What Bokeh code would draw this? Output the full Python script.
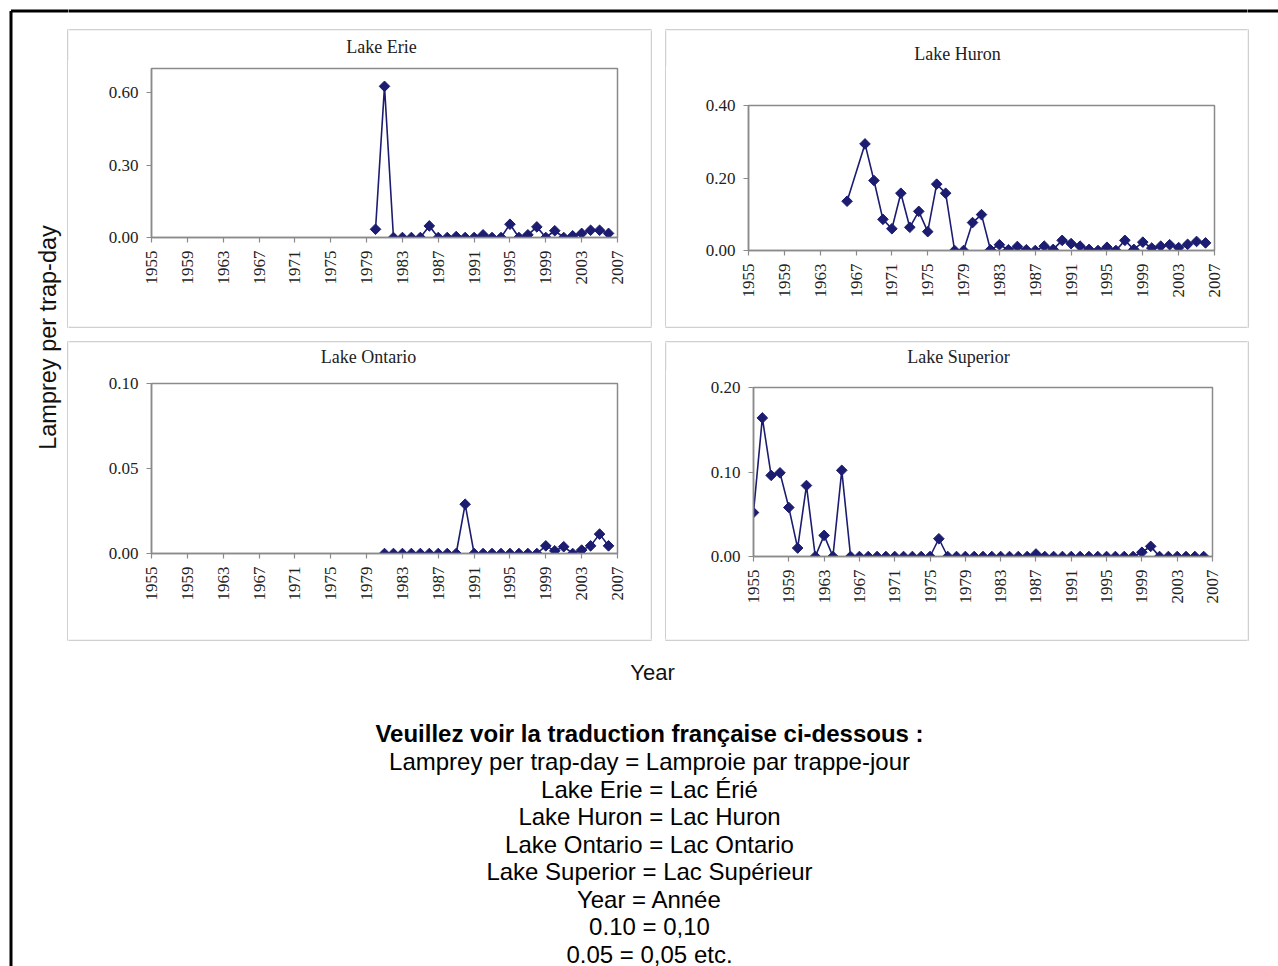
from math import pi
from bokeh.plotting import figure
from bokeh.layouts import row, column
from bokeh.models import Range1d, FixedTicker, PrintfTickFormatter
from bokeh.core.properties import value
from bokeh.embed import file_html
from bokeh.resources import INLINE

# ---------------- data ----------------
year_ticks = list(range(1955, 2008, 4))

erie_years = list(range(1980, 2007))
erie_vals = [0.034, 0.626, 0.0, 0.0, 0.0, 0.0, 0.048, 0.0, 0.0, 0.004,
             0.0, 0.0, 0.011, 0.0, 0.0, 0.055, 0.0, 0.011, 0.044, 0.0,
             0.028, 0.0, 0.007, 0.017, 0.030, 0.030, 0.017]
erie_yticks = [0.0, 0.30, 0.60]

huron_years = [1966] + list(range(1968, 2007))
huron_vals = [0.136, 0.294, 0.193, 0.086, 0.060, 0.158, 0.064, 0.108, 0.052, 0.183,
              0.158, 0.0, 0.0, 0.077, 0.099, 0.002, 0.016, 0.002, 0.011, 0.002,
              0.0, 0.012, 0.003, 0.028, 0.019, 0.012, 0.003, 0.0, 0.009, 0.0,
              0.028, 0.003, 0.023, 0.007, 0.012, 0.016, 0.008, 0.017, 0.025, 0.021]
huron_yticks = [0.0, 0.20, 0.40]

ontario_years = list(range(1981, 2007))
ontario_vals = [0.0, 0.0, 0.0, 0.0, 0.0, 0.0, 0.0, 0.0, 0.0, 0.029,
                0.0, 0.0, 0.0, 0.0, 0.0, 0.0, 0.0, 0.0, 0.0045, 0.0016,
                0.004, 0.0, 0.002, 0.0045, 0.0114, 0.0045]
ontario_yticks = [0.0, 0.05, 0.10]

superior_years = list(range(1955, 2007))
superior_vals = [0.052, 0.164, 0.096, 0.099, 0.058, 0.010, 0.084, 0.0, 0.025, 0.0,
                 0.102, 0.0, 0.0, 0.0, 0.0, 0.0, 0.0, 0.0, 0.0, 0.0,
                 0.0, 0.021, 0.0, 0.0, 0.0, 0.0, 0.0, 0.0, 0.0, 0.0,
                 0.0, 0.0, 0.003, 0.0, 0.0, 0.0, 0.0, 0.0, 0.0, 0.0,
                 0.0, 0.0, 0.0, 0.0, 0.005, 0.012, 0.0, 0.0, 0.0, 0.0,
                 0.0, 0.0]
superior_yticks = [0.0, 0.10, 0.20]

panel_titles = ["Lake Erie", "Lake Huron", "Lake Ontario", "Lake Superior"]
y_label = "Lamprey per trap-day"
x_label = "Year"
note_heading = "Veuillez voir la traduction française ci-dessous :"
note_lines = ["Lamprey per trap-day = Lamproie par trappe-jour",
              "Lake Erie = Lac Érié",
              "Lake Huron = Lac Huron",
              "Lake Ontario = Lac Ontario",
              "Lake Superior = Lac Supérieur",
              "Year = Année",
              "0.10 = 0,10",
              "0.05 = 0,05 etc."]

# ---------------- style ----------------
NAVY = "#1c1c70"
AXIS_GRAY = "#8a8a8a"
PANEL_GRAY = "#d0d0d0"
SERIF = "Liberation Serif"
SANS = "Liberation Sans"

W, H = 1278, 966


def canvas(w, h, x0, y0):
    """A plain drawing surface whose data units are page pixels."""
    p = figure(width=w, height=h, x_range=Range1d(x0, x0 + w), y_range=Range1d(y0 + h, y0),
               x_axis_location=None, y_axis_location=None, min_border=0,
               toolbar_location=None, output_backend="svg", outline_line_color=None)
    p.grid.visible = False
    # black frame lines of the page
    p.segment(x0=[10.5, 10.5], y0=[10.5, 10.5], x1=[10.5, W], y1=[H, 10.5],
              line_color="black", line_width=3)
    # light grey chart-area borders
    p.quad(left=[67.25, 665.25, 67.25, 665.25], right=[650.75, 1247.75, 650.75, 1247.75],
           top=[29.25, 29.25, 341.25, 341.25], bottom=[326.75, 326.75, 639.75, 639.75],
           fill_color=None, line_color=PANEL_GRAY, line_width=1.5)
    return p


def chart(w, h, fl, ft, fr, fb, years, vals, ymax, yticks):
    p = figure(width=w, height=h, x_range=Range1d(1955, 2007), y_range=Range1d(0, ymax),
               min_border_left=fl, min_border_top=ft, min_border_right=w - fr,
               min_border_bottom=h - fb, toolbar_location=None, output_backend="svg",
               outline_line_color=AXIS_GRAY, outline_line_width=1.5,
               background_fill_color="white", border_fill_color="white")
    p.xgrid.visible = False
    p.ygrid.visible = False
    p.xaxis.ticker = FixedTicker(ticks=year_ticks)
    p.yaxis.ticker = FixedTicker(ticks=yticks)
    p.yaxis.formatter = PrintfTickFormatter(format="%.2f")
    p.xaxis.major_label_orientation = pi / 2
    for ax in p.axis:
        ax.axis_line_color = AXIS_GRAY
        ax.axis_line_width = 1.5
        ax.major_tick_line_color = AXIS_GRAY
        ax.major_tick_line_width = 1.2
        ax.major_tick_out = 5
        ax.major_tick_in = 0
        ax.minor_tick_out = 0
        ax.minor_tick_in = 0
        ax.major_label_text_font = SERIF
        ax.major_label_text_font_size = "17px"
        ax.major_label_text_color = "#222222"
        ax.major_label_standoff = 8
    p.line(years, vals, line_color=NAVY, line_width=1.6)
    p.scatter(years, vals, marker="square", angle=pi / 4, size=7.5,
              fill_color=NAVY, line_color=NAVY)
    return p


def panel(x0, y0, w, th, ch, title, tx, ty, chart_fig):
    t = canvas(w, th, x0, y0)
    t.text(x=[tx], y=[ty], text=[title], text_align="center", text_baseline="middle",
           text_font=value(SERIF), text_font_size=value("18px"), text_color="#222222")
    return column(column(t), column(chart_fig))


erie = panel(68, 30, 582, 30, 266, panel_titles[0], 381, 46,
             chart(582, 266, 83, 8, 549, 177, erie_years, erie_vals, 0.70, erie_yticks))
huron = panel(666, 30, 581, 36, 260, panel_titles[1], 957, 53,
              chart(581, 260, 82, 39, 548, 184, huron_years, huron_vals, 0.40, huron_yticks))
ontario = panel(68, 342, 582, 28, 269, panel_titles[2], 368, 356,
                chart(582, 269, 83, 13, 549, 183, ontario_years, ontario_vals, 0.10,
                      ontario_yticks))
superior = panel(666, 342, 581, 28, 269, panel_titles[3], 958, 356,
                 chart(581, 269, 87, 17, 546, 186, superior_years, superior_vals, 0.20,
                       superior_yticks))

L = canvas(68, 966, 0, 0)
L.text(x=[47], y=[337], text=[y_label], angle=pi / 2, text_align="center",
       text_baseline="middle", text_font=value(SANS), text_font_size=value("23.5px"),
       text_color="#111111")
T = canvas(1179, 30, 68, 0)
R = canvas(31, 966, 1247, 0)
G1 = canvas(16, 296, 650, 30)
G2 = canvas(1179, 16, 68, 326)
G3 = canvas(16, 297, 650, 342)
B = canvas(1179, 327, 68, 639)
B.text(x=[652], y=[672], text=[x_label], text_align="center", text_baseline="middle",
       text_font=value(SANS), text_font_size=value("22px"), text_color="#111111")
B.text(x=[649], y=[733], text=[note_heading], text_align="center", text_baseline="middle",
       text_font=value(SANS), text_font_size=value("24px"), text_font_style="bold",
       text_color="#000000")
note_y = [761, 788.5, 816, 843.5, 871, 898.5, 926, 953.5]
B.text(x=[649] * len(note_lines), y=note_y, text=note_lines, text_align="center",
       text_baseline="middle", text_font=value(SANS), text_font_size=value("24px"),
       text_color="#000000")

mid = column(T,
             row(erie, column(G1), huron),
             G2,
             row(ontario, column(G3), superior),
             B)
layout = row(L, mid, R)

open("out.html", "w").write(file_html(layout, INLINE))
